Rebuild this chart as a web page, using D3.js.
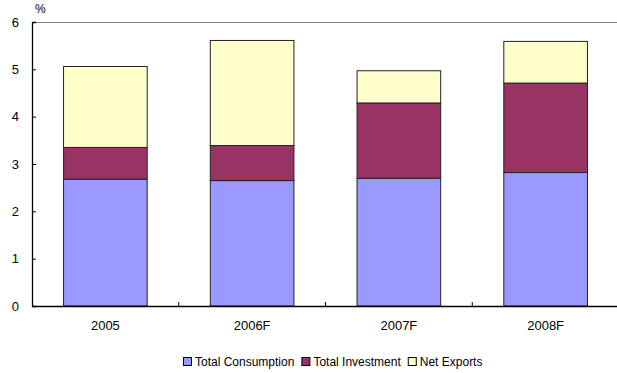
<!DOCTYPE html>
<html>
<head>
<meta charset="utf-8">
<script src="https://cdn.jsdelivr.net/npm/d3@7/dist/d3.min.js"></script>
<style>
  html, body { margin: 0; padding: 0; background: #fff; }
  svg text { font-family: "Liberation Sans", Arial, sans-serif; fill: #000; }
</style>
</head>
<body>
<svg id="chart" width="617" height="373"></svg>
<script>
// GDP growth contributions by component (percentage points)
const categories = ["2005", "2006F", "2007F", "2008F"];
const seriesNames = ["Total Consumption", "Total Investment", "Net Exports"];
const totalConsumption = [2.68, 2.65, 2.70, 2.82];
const totalInvestment = [0.67, 0.74, 1.59, 1.89];
const netExports = [1.71, 2.22, 0.68, 0.88];
const yTicks = [0, 1, 2, 3, 4, 5, 6];
const colors = ["#9999FF", "#993366", "#FFFFCC"];

const svg = d3.select("#chart");
const plot = { left: 32, right: 619, top: 22, bottom: 306 };

const rows = categories.map((c, i) => ({
  cat: c,
  "Total Consumption": totalConsumption[i],
  "Total Investment": totalInvestment[i],
  "Net Exports": netExports[i]
}));
const stacked = d3.stack().keys(seriesNames)(rows);

const x = d3.scaleBand()
  .domain(categories)
  .range([plot.left, plot.right])
  .paddingInner(0.43)
  .paddingOuter(0.215);
const y = d3.scaleLinear().domain([0, 6]).range([plot.bottom, plot.top]);

// top frame line
svg.append("line")
  .attr("x1", plot.left).attr("x2", plot.right)
  .attr("y1", plot.top + 0.5).attr("y2", plot.top + 0.5)
  .attr("stroke", "#808080").attr("stroke-width", 1.2);

// stacked bars
svg.append("g").selectAll("g")
  .data(stacked)
  .join("g")
  .attr("fill", (d, i) => colors[i])
  .selectAll("rect")
  .data(d => d)
  .join("rect")
  .attr("x", d => x(d.data.cat))
  .attr("width", x.bandwidth())
  .attr("y", d => y(d[1]))
  .attr("height", d => y(d[0]) - y(d[1]))
  .attr("stroke", "#222")
  .attr("stroke-width", 1);

// y axis with inward ticks
const yAxis = d3.axisLeft(y).tickValues(yTicks).tickSize(-4).tickPadding(13).tickFormat(d3.format("d"));
const gy = svg.append("g").attr("transform", `translate(${plot.left},0)`).call(yAxis);
gy.select(".domain").attr("stroke", "#000").attr("stroke-width", 1.3);
gy.selectAll(".tick line").attr("stroke", "#000");
gy.selectAll(".tick text").style("font-size", "13px");

// x axis with ticks between categories
const xAxis = d3.axisBottom(x).tickSize(0).tickPadding(15);
const gx = svg.append("g").attr("transform", `translate(0,${plot.bottom})`).call(xAxis);
gx.select(".domain").attr("stroke", "#000").attr("stroke-width", 1.3);
gx.selectAll(".tick text").style("font-size", "13px");
const step = x.step();
svg.append("g").selectAll("line")
  .data(d3.range(1, categories.length))
  .join("line")
  .attr("x1", i => plot.left + i * step).attr("x2", i => plot.left + i * step)
  .attr("y1", plot.bottom).attr("y2", plot.bottom - 4)
  .attr("stroke", "#000");

// unit label
svg.append("text").attr("x", 35).attr("y", 13).style("font-size", "12px").text("%");

// legend
const legend = svg.append("g").attr("transform", "translate(183,358)");
let lx = 0;
seriesNames.forEach((name, i) => {
  const g = legend.append("g").attr("transform", `translate(${lx},0)`);
  g.append("rect").attr("x", 0.5).attr("y", -0.5).attr("width", 8).attr("height", 8)
    .attr("fill", colors[i]).attr("stroke", "#000").attr("stroke-width", 1);
  const t = g.append("text").attr("x", 12).attr("y", 8).style("font-size", "12px").text(name);
  lx += 12 + t.node().getComputedTextLength() + 7;
});
</script>
</body>
</html>
